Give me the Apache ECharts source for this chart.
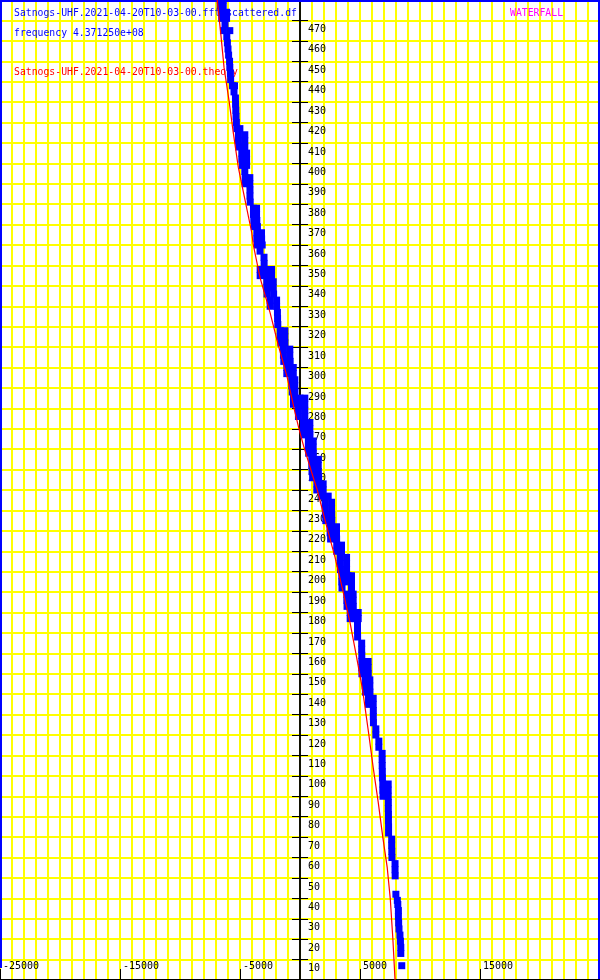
<!DOCTYPE html>
<html><head><meta charset="utf-8">
<script src="https://cdn.jsdelivr.net/npm/echarts@6/dist/echarts.min.js"></script>
<style>html,body{margin:0;padding:0;background:#fff}#c{width:600px;height:980px}</style>
</head><body><div id="c"></div>
<script>
// x tick labels (frequency offset, Hz) and y range (time index)
const xTickLabels = ['-25000', '-15000', '-5000', '5000', '15000'];
const xMin = -25000, xMax = 25000;
const yMin = 0, yMax = 480;

// theory curve (red)
const theoryTime = [0, 20, 40, 55, 70, 87, 104, 120, 142, 158, 175, 191, 207, 224, 240, 246, 262, 268, 278, 295, 311, 327, 344, 360, 366, 382, 398, 415, 431, 447, 464, 480];
const theoryFreq = [7920, 7740, 7520, 7270, 6900, 6520, 6100, 5740, 5220, 4720, 4170, 3560, 2920, 2140, 1440, 1110, 280, 0, -420, -1060, -1810, -2500, -3330, -3890, -4020, -4580, -5140, -5560, -5920, -6330, -6610, -6900];

// fft scattered detections (blue), parallel arrays
const scatTime = [
 480,480,477,477,474,474,471,471,468,465,465,462,459,456,453,450,447,444,441,438,438,435,432,429,426,423,420,
 417,417,414,414,411,411,408,408,405,405,402,402,399,399,396,393,393,390,390,387,384,381,
 378,378,375,375,372,372,369,369,366,366,363,363,360,360,357,354,351,
 348,348,348,345,345,345,342,342,339,339,336,336,333,333,330,330,327,324,321,
 318,318,315,315,312,312,309,309,306,306,303,303,300,300,297,297,294,294,291,291,288,288,
 285,285,285,282,282,282,279,279,276,276,273,273,270,270,267,267,264,264,261,261,258,258,
 255,255,252,252,249,249,246,246,243,243,240,240,237,237,234,234,231,231,228,228,225,225,
 222,222,219,219,216,216,213,213,210,210,207,207,204,204,201,201,198,198,198,195,195,195,192,192,
 189,189,186,186,183,183,180,180,180,177,177,177,174,171,168,165,162,159,
 156,156,153,153,150,150,147,147,144,144,141,141,138,138,135,135,132,129,126,123,120,117,114,
 111,108,105,102,99,96,96,93,93,90,90,87,84,81,78,75,72,69,66,63,60,57,54,51,
 42,39,37,34,31,28,25,22,19,16,13,7
];
const scatFreq = [
 -6650,-6400,-6650,-6400,-6520,-6120,-6520,-6120,-6250,-6380,-5850,-6100,-6050,-6000,-5950,-5870,-5850,-5800,-5780,-5630,-5460,-5500,-5380,-5370,-5350,-5330,-5300,
 -5270,-5010,-5130,-4600,-5130,-4600,-5100,-4600,-4850,-4450,-4850,-4450,-4800,-4450,-4600,-4570,-4180,-4570,-4180,-4170,-4170,-4150,
 -3880,-3620,-3880,-3620,-3850,-3600,-3800,-3550,-3600,-3210,-3600,-3200,-3550,-3150,-3330,-3000,-2990,
 -3320,-2800,-2370,-3320,-2800,-2370,-2770,-2230,-2770,-2230,-2750,-2200,-2490,-1950,-2490,-1950,-1880,-1870,-1850,
 -1650,-1260,-1650,-1260,-1600,-1250,-1380,-850,-1380,-850,-1350,-820,-1100,-560,-1100,-560,-690,-430,-690,-430,-650,-420,
 -540,0,400,-540,0,400,-130,400,-130,400,290,820,290,820,300,830,700,1100,700,1100,720,1110,
 980,1520,980,1520,1000,1530,1050,1550,1400,1930,1400,1930,1810,2350,2100,2630,2100,2630,2120,2640,2150,2650,
 2510,3040,2510,3040,2550,3050,3060,3460,3060,3460,3350,3880,3350,3880,3370,3880,3480,4000,4290,3480,4000,4290,3500,4290,
 3900,4430,3900,4430,3920,4440,4180,4600,4850,4180,4600,4850,4790,4790,4800,5140,5140,5150,
 5150,5680,5150,5680,5160,5690,5430,5820,5430,5820,5450,5830,5710,6100,5710,6100,6110,6110,6120,6320,6320,6570,6570,
 6845,6845,6850,6860,6870,6900,7350,6900,7350,6920,7350,7360,7360,7370,7370,7380,7380,7640,7640,7650,7660,7920,7920,7930,
 7990,8110,8150,8200,8200,8220,8250,8330,8370,8400,8400,8480
];

const FONT = '"DejaVu Sans Mono", monospace';
const theoryData = theoryTime.map((t, i) => [theoryFreq[i], t]);
const scatData = scatTime.map((t, i) => [scatFreq[i], t]);

function title(x, y, text, color) {
  return {type: 'text', z: 1, silent: true, x: x, y: y, scaleX: 0.89,
    style: {x: 0, y: 0, text: text, font: '11px ' + FONT, fill: color, verticalAlign: 'middle', align: 'left'}};
}

const chart = echarts.init(document.getElementById('c'), null, {renderer: 'canvas'});
chart.setOption({
  animation: false,
  backgroundColor: '#ffffff',
  grid: {left: 0, right: 0, top: 0, bottom: 0, containLabel: false, outerBoundsMode: 'none', show: false},
  xAxis: [
    {type: 'value', min: xMin, max: xMax, interval: 1000,
     axisLine: {show: false, onZero: false}, axisTick: {show: false}, axisLabel: {show: false},
     splitLine: {show: true, lineStyle: {color: '#ffff00', width: 2}}},
    {type: 'value', min: xMin, max: xMax, interval: 10000, position: 'bottom',
     axisLine: {show: true, onZero: false, lineStyle: {color: '#000000', width: 2}},
     axisTick: {show: true, inside: true, length: 11, lineStyle: {color: '#000000', width: 1}},
     axisLabel: {show: true, inside: true, margin: 9, align: 'left', padding: [0, 0, 0, 3],
       color: '#000000', fontFamily: FONT, fontSize: 10, showMaxLabel: false,
       formatter: v => xTickLabels.indexOf(String(v)) >= 0 ? String(v) : ''},
     splitLine: {show: false}}
  ],
  yAxis: [
    {type: 'value', min: yMin, max: yMax, interval: 10, position: 'left', offset: -300,
     axisLine: {show: true, onZero: false, lineStyle: {color: '#000000', width: 1.5}},
     axisTick: {show: true, length: 8, lineStyle: {color: '#000000', width: 1}},
     axisLabel: {show: false},
     splitLine: {show: true, lineStyle: {color: '#ffff00', width: 2}}},
    {type: 'value', min: yMin, max: yMax, interval: 10, position: 'right', offset: -300,
     axisLine: {show: true, onZero: false, lineStyle: {color: '#000000', width: 1.5}},
     axisTick: {show: true, length: 8, lineStyle: {color: '#000000', width: 1}},
     axisLabel: {show: true, margin: 8, align: 'left', verticalAlign: 'top', padding: [4, 0, 0, 0],
       color: '#000000', fontFamily: FONT, fontSize: 10, showMinLabel: false, showMaxLabel: false, hideOverlap: false},
     splitLine: {show: false}}
  ],
  graphic: [
    {type: 'polyline', z: 1, silent: true,
     shape: {points: [[1, 968], [1, 1], [599, 1], [599, 979]]},
     style: {stroke: '#0000ff', lineWidth: 2, fill: null}},
    title(14, 13.5, 'Satnogs-UHF.2021-04-20T10-03-00.fft_scattered.df', '#0000ff'),
    title(14, 33, 'frequency 4.371250e+08', '#0000ff'),
    title(14, 72.5, 'Satnogs-UHF.2021-04-20T10-03-00.theory', '#ff0000'),
    title(510, 13.3, 'WATERFALL', '#ff00ff')
  ],
  series: [
    {type: 'scatter', xAxisIndex: 0, yAxisIndex: 0, data: scatData, z: 4,
     symbol: 'rect', symbolSize: [7, 7], itemStyle: {color: '#0000ff', opacity: 1}, silent: true},
    {type: 'line', xAxisIndex: 0, yAxisIndex: 0, data: theoryData, z: 5,
     symbol: 'none', lineStyle: {color: '#ff0000', width: 1.2}, silent: true}
  ]
});
</script>
</body></html>
